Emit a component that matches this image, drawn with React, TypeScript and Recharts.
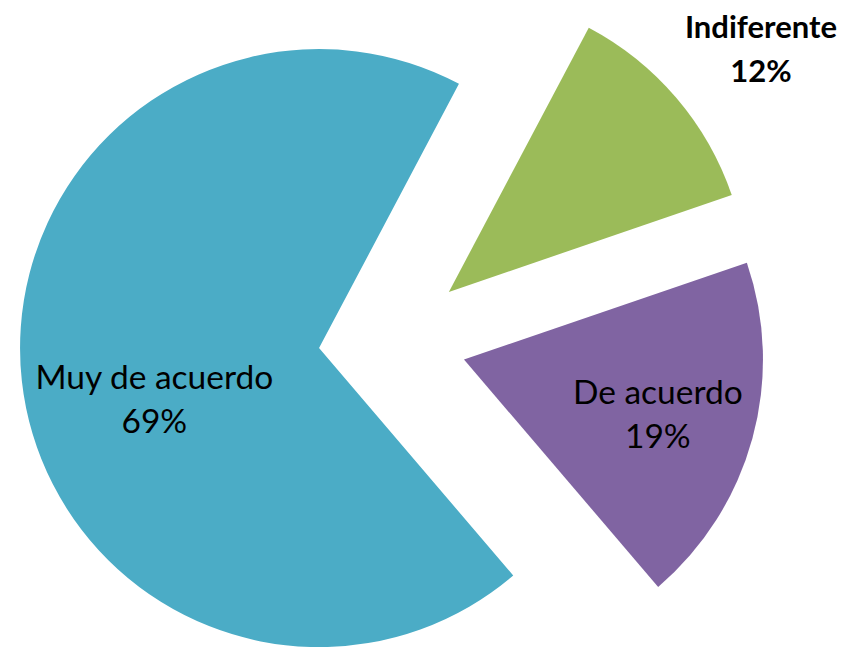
import { PieChart, Pie, Cell, Sector } from 'recharts';

// Respuestas de la encuesta (porcentajes)
const categories = ['Muy de acuerdo', 'De acuerdo', 'Indiferente'];
const percentages = [69, 19, 12];
const COLORS = ['#4BACC6', '#8064A2', '#9BBB59'];

const data = categories.map((name, i) => ({ name, value: percentages[i] }));

const RADIAN = Math.PI / 180;
const EXPLODE = 74;
const FONT = 'Lato, "Open Sans", sans-serif';

// Posición de cada etiqueta: fracción del radio y giro respecto al ángulo medio
const LABEL_LAYOUT: Record<string, { r: number; rot: number; bold: boolean; size: number }> = {
  'Muy de acuerdo': { r: 0.59, rot: 14.7, bold: false, size: 33.5 },
  'De acuerdo': { r: 0.685, rot: -3.5, bold: false, size: 33.5 },
  'Indiferente': { r: 1.3, rot: -3.9, bold: true, size: 31 }
};

const shift = (midAngle: number) => ({
  dx: EXPLODE * Math.cos(-midAngle * RADIAN),
  dy: EXPLODE * Math.sin(-midAngle * RADIAN)
});

const ExplodedSector = (props: any) => {
  const { cx, cy, midAngle } = props;
  const { dx, dy } = shift(midAngle);
  return <Sector {...props} cx={cx + dx} cy={cy + dy} stroke="none" />;
};

const renderLabel = (props: any) => {
  const { cx, cy, midAngle, outerRadius, name, value } = props;
  const { dx, dy } = shift(midAngle);
  const layout = LABEL_LAYOUT[name];
  const a = (midAngle + layout.rot) * RADIAN;
  const x = cx + dx + outerRadius * layout.r * Math.cos(a);
  const y = cy + dy - outerRadius * layout.r * Math.sin(a);
  return (
    <text
      x={x}
      y={y}
      textAnchor="middle"
      fill="#000"
      fontFamily={FONT}
      fontSize={layout.size}
      fontWeight={layout.bold ? 700 : 400}
    >
      <tspan x={x} y={y - 22}>{name}</tspan>
      <tspan x={x} y={y + 22}>{value}%</tspan>
    </text>
  );
};

export default function App() {
  return (
    <div style={{ position: 'absolute', left: 0, top: 0, width: 846, height: 647, background: '#fff' }}>
      <PieChart width={846} height={647} margin={{ top: 0, right: 0, bottom: 0, left: 0 }}>
        <Pie
          data={data}
          dataKey="value"
          nameKey="name"
          cx={392.6}
          cy={340}
          outerRadius={299}
          startAngle={62.1}
          endAngle={422.1}
          stroke="none"
          labelLine={false}
          label={renderLabel}
          shape={ExplodedSector}
          activeShape={ExplodedSector}
          inactiveShape={ExplodedSector}
          isAnimationActive={false}
        >
          {data.map((entry, index) => (
            <Cell key={`cell-${entry.name}`} fill={COLORS[index]} />
          ))}
        </Pie>
      </PieChart>
    </div>
  );
}
